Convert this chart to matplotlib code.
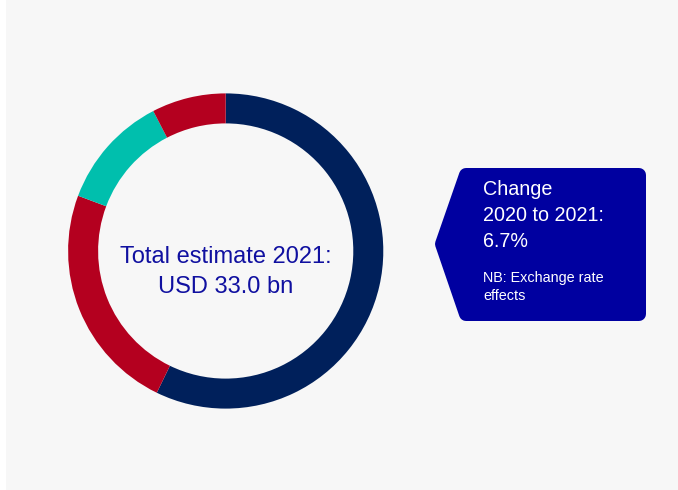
import numpy as np
import matplotlib.pyplot as plt
from matplotlib.patches import Polygon, Rectangle

# market split 2021 (share of total, %)
shares = [57.2, 23.5, 11.7, 7.6]
colors = ["#00205b", "#b4001f", "#00bfad", "#b4001f"]
total_lines = ["Total estimate 2021:", "USD 33.0 bn"]
change_lines = ["Change", "2020 to 2021:", "6.7%"]
note_lines = ["NB: Exchange rate", "effects"]

W, H = 678, 490
fig = plt.figure(figsize=(W / 100, H / 100), dpi=100)
fig.patch.set_facecolor("white")
ax = fig.add_axes([0, 0, 1, 1])
ax.set_axis_off()

# light panel behind everything
ax.add_patch(Rectangle((6, 0), W - 6, H, facecolor="#f7f7f7", edgecolor="none", zorder=0))

ax.pie(shares, colors=colors, startangle=90, counterclock=False,
       center=(225.7, H - 251), radius=157.6, frame=True,
       wedgeprops=dict(width=30, linewidth=0))

font = "Liberation Sans"
for i, line in enumerate(total_lines):
    ax.text(225.5, H - (263 + 30 * i), line, ha="center", va="baseline",
            fontsize=17, color="#1010a0", family=font)

# callout box pointing at the ring
pts = [(466, 175), (639, 175), (639, 314), (466, 314), (442, 244)]
ax.add_patch(Polygon([(x, H - y) for x, y in pts], closed=True,
                     facecolor="#0000a0", edgecolor="#0000a0",
                     linewidth=14 * 0.72, joinstyle="round", zorder=3))
for i, line in enumerate(change_lines):
    ax.text(483, H - (195 + 26 * i), line, ha="left", va="baseline",
            fontsize=14.2, color="white", family=font, zorder=4)
for i, line in enumerate(note_lines):
    ax.text(483, H - (282 + 18 * i), line, ha="left", va="baseline",
            fontsize=10.4, color="white", family=font, zorder=4)

ax.set_xlim(0, W)
ax.set_ylim(0, H)
ax.set_aspect("auto")

fig.savefig("out.png", dpi=100)
